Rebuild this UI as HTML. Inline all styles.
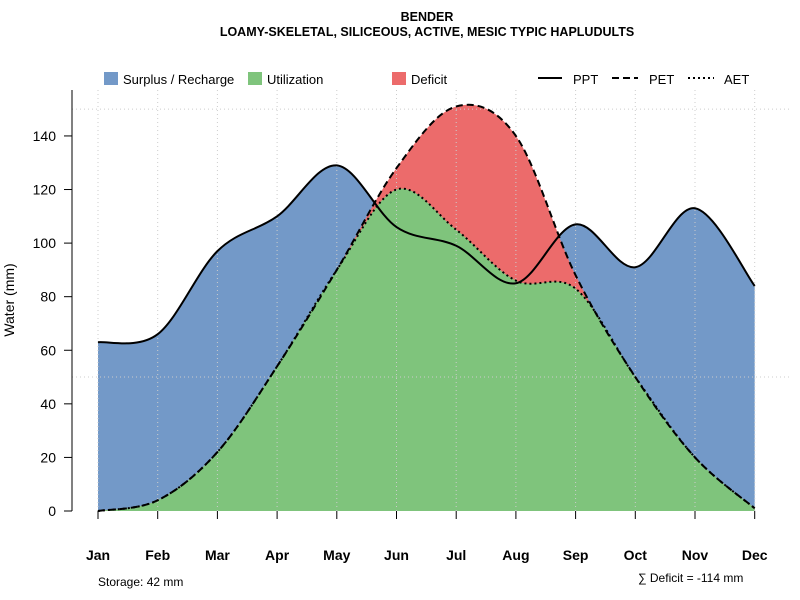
<!DOCTYPE html>
<html><head><meta charset="utf-8"><style>body{margin:0;background:#fff}svg{display:block;font-family:"Liberation Sans",sans-serif}</style></head>
<body>
<svg id="s" width="800" height="600" xmlns="http://www.w3.org/2000/svg">
<text x="427" y="21" text-anchor="middle" font-size="12.5" font-weight="bold">BENDER</text>
<text x="427" y="36" text-anchor="middle" font-size="12.5" font-weight="bold">LOAMY-SKELETAL, SILICEOUS, ACTIVE, MESIC TYPIC HAPLUDULTS</text>
<g id="fills"></g>
<g id="grid" stroke="#ccc" stroke-dasharray="1,3" stroke-width="1"></g>
<g id="lines" fill="none" stroke="#000" stroke-width="2"></g>
<line x1="72" y1="90" x2="72" y2="511" stroke="#000"/>
<g id="yt" font-size="14"></g>
<g id="xt" font-size="14" font-weight="bold"></g>
<text transform="translate(14,300) rotate(-90)" text-anchor="middle" font-size="14">Water (mm)</text>
<rect x="104" y="72" width="14" height="13" fill="#7399c8"/><text x="123" y="84" font-size="13">Surplus / Recharge</text>
<rect x="248" y="72" width="14" height="13" fill="#7fc47c"/><text x="267" y="84" font-size="13">Utilization</text>
<rect x="392" y="72" width="14" height="13" fill="#ec6b6b"/><text x="411" y="84" font-size="13">Deficit</text>
<line x1="538" y1="78" x2="562" y2="78" stroke="#000" stroke-width="2"/><text x="573" y="84" font-size="13">PPT</text>
<line x1="612" y1="78" x2="638" y2="78" stroke="#000" stroke-width="2" stroke-dasharray="7,4"/><text x="649" y="84" font-size="13">PET</text>
<line x1="688" y1="78" x2="714" y2="78" stroke="#000" stroke-width="2" stroke-dasharray="2,3"/><text x="724" y="84" font-size="13">AET</text>
<text x="98" y="586" font-size="12">Storage: 42 mm</text>
<text x="638" y="582" font-size="12">∑ Deficit = -114 mm</text>
</svg>
<script>
var X=m=>98+m*59.7, Y=v=>511-v*2.679;
var ppt=[63,66,97,110,129,106,99,85,107,91,113,84];
var pet=[0,4,22,54,90,128,151,140,88,50,20,1];
var aet=[0,4,22,54,90,120,105,86,83,50,20,1];
function path(a){var p=a.map((v,i)=>[X(i),Y(v)]);var d="M"+p[0];
for(var i=0;i<p.length-1;i++){var p0=p[i-1]||p[i],p1=p[i],p2=p[i+1],p3=p[i+2]||p2;
d+=" C"+(p1[0]+(p2[0]-p0[0])/6)+","+(p1[1]+(p2[1]-p0[1])/6)+" "+(p2[0]-(p3[0]-p1[0])/6)+","+(p2[1]-(p3[1]-p1[1])/6)+" "+p2;}return d;}
function area(a){return path(a)+" L"+X(11)+","+Y(0)+" L"+X(0)+","+Y(0)+"Z";}
var ns="http://www.w3.org/2000/svg";
function el(g,t,at,tx){var e=document.createElementNS(ns,t);for(var k in at)e.setAttribute(k,at[k]);if(tx!==undefined)e.textContent=String(tx);document.getElementById(g).appendChild(e);}
el("fills","path",{d:area(ppt),fill:"#7399c8"});
el("fills","path",{d:area(pet),fill:"#ec6b6b"});
el("fills","path",{d:area(aet),fill:"#7fc47c"});
for(var i=0;i<12;i++){el("grid","line",{x1:X(i),x2:X(i),y1:90,y2:511});}
[50,150].forEach(v=>el("grid","line",{x1:72,x2:790,y1:Y(v),y2:Y(v)}));
el("lines","path",{d:path(ppt)});
el("lines","path",{d:path(pet),"stroke-dasharray":"7,4"});
el("lines","path",{d:path(aet),"stroke-dasharray":"2,3"});
for(var v=0;v<=140;v+=20){el("yt","line",{x1:64,x2:72,y1:Y(v),y2:Y(v),stroke:"#000"});el("yt","text",{x:56,y:Y(v)+5,"text-anchor":"end"},String(v));}
var mn=["Jan","Feb","Mar","Apr","May","Jun","Jul","Aug","Sep","Oct","Nov","Dec"];
mn.forEach((m,i)=>{el("xt","line",{x1:X(i),x2:X(i),y1:511,y2:519,stroke:"#000"});el("xt","text",{x:X(i),y:560,"text-anchor":"middle"},m);});
</script>
</body></html>
